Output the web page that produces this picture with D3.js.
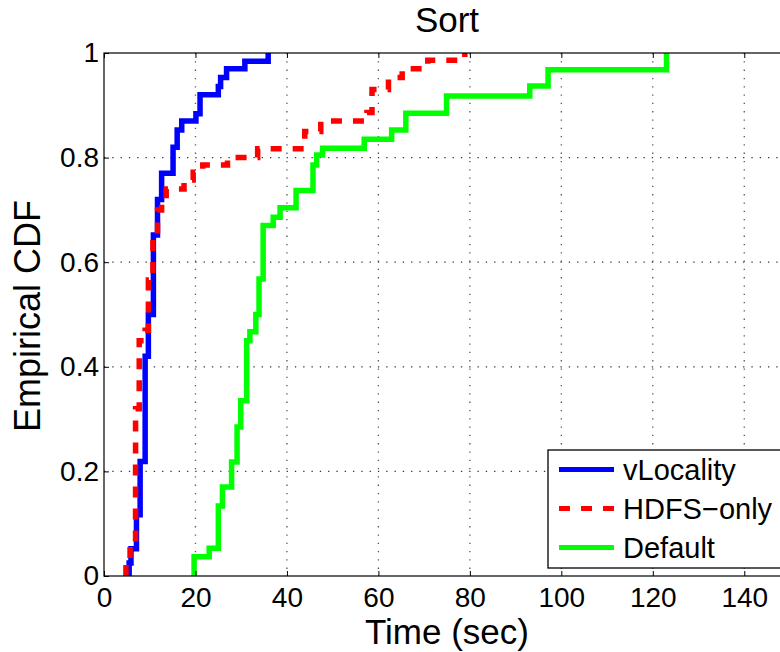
<html>
<head>
<meta charset="utf-8">
<script src="https://cdn.jsdelivr.net/npm/d3@7"></script>
<style>
  body { margin: 0; background: #fff; }
  text { font-family: "Liberation Sans", Arial, Helvetica, sans-serif; fill: #000; }
</style>
</head>
<body>
<div id="chart"></div>
<script>
// step positions (sec) and CDF level reached at each step
var vlocTimes = [5.5, 5.9, 7.1, 7.9, 9.0, 9.7, 10.8, 11.7, 12.6, 15.1, 16.0, 17.0, 20.1, 21.0, 25.0, 25.5, 26.8, 30.8, 35.9];
var vlocCdf   = [0.025, 0.052, 0.117, 0.219, 0.42, 0.50, 0.652, 0.72, 0.77, 0.82, 0.853, 0.87, 0.884, 0.92, 0.936, 0.953, 0.97, 0.984, 1];

var hdfsTimes = [4.8, 5.7, 6.9, 7.7, 9.0, 9.7, 10.7, 11.7, 12.6, 13.6, 17.5, 19.5, 21.6, 27.0, 33.6, 43.9, 47.4, 57.5, 58.6, 62.2, 65.2, 70.8, 78.9];
var hdfsCdf   = [0.025, 0.056, 0.32, 0.45, 0.47, 0.566, 0.643, 0.70, 0.72, 0.74, 0.757, 0.772, 0.786, 0.80, 0.817, 0.85, 0.87, 0.886, 0.93, 0.953, 0.97, 0.986, 1];

var defTimes = [19.7, 23.0, 25.0, 25.9, 27.9, 29.1, 29.9, 31.2, 31.9, 33.2, 33.9, 34.8, 37.0, 38.5, 42.0, 45.7, 46.5, 47.8, 56.9, 62.9, 66.0, 74.9, 93.1, 97.1, 123.0];
var defCdf   = [0.037, 0.053, 0.134, 0.17, 0.218, 0.285, 0.335, 0.45, 0.467, 0.5, 0.568, 0.67, 0.686, 0.704, 0.737, 0.786, 0.805, 0.818, 0.835, 0.853, 0.885, 0.918, 0.937, 0.968, 1];

var seriesNames = ["vLocality", "HDFS\u2212only", "Default"];
var xTicks = [0, 20, 40, 60, 80, 100, 120, 140];
var yTicks = [0, 0.2, 0.4, 0.6, 0.8, 1];

var w = 780, h = 652;
var plotL = 104, plotR = 790, plotT = 53, plotB = 576;

var svg = d3.select("#chart").append("svg")
  .attr("width", w)
  .attr("height", h);

var x = d3.scaleLinear().domain([0, 150]).range([plotL, plotR]);
var y = d3.scaleLinear().domain([0, 1]).range([plotB, plotT]);

svg.append("rect")
  .attr("width", w).attr("height", h).attr("fill", "#fff");

svg.append("defs").append("clipPath").attr("id", "plotclip")
  .append("rect")
  .attr("x", plotL).attr("y", plotT)
  .attr("width", plotR - plotL).attr("height", plotB - plotT);

// dotted grid
var grid = svg.append("g");
grid.selectAll(".vgrid")
  .data(xTicks.slice(1))
  .enter().append("line")
  .attr("class", "vgrid")
  .attr("x1", function(d){ return x(d); })
  .attr("x2", function(d){ return x(d); })
  .attr("y1", plotT).attr("y2", plotB)
  .attr("stroke", "#555")
  .attr("stroke-width", 1.3)
  .attr("stroke-dasharray", "1.3,7");
grid.selectAll(".hgrid")
  .data(yTicks.slice(1, -1))
  .enter().append("line")
  .attr("class", "hgrid")
  .attr("y1", function(d){ return y(d); })
  .attr("y2", function(d){ return y(d); })
  .attr("x1", plotL).attr("x2", plotR)
  .attr("stroke", "#333")
  .attr("stroke-width", 1.3)
  .attr("stroke-dasharray", "1.3,7");

// curves
var line = d3.line()
  .x(function(d){ return x(d[0]); })
  .y(function(d){ return y(d[1]); })
  .curve(d3.curveStepAfter);

function steps(times, cdf) {
  var pts = [[times[0], 0]];
  times.forEach(function(t, i){ pts.push([t, cdf[i]]); });
  return pts;
}

var series = [
  {pts: steps(vlocTimes, vlocCdf), color: "#0000ff", dash: null},
  {pts: steps(hdfsTimes, hdfsCdf), color: "#ff0000", dash: "11,11"},
  {pts: steps(defTimes, defCdf), color: "#00ff00", dash: null}
];

var plot = svg.append("g").attr("clip-path", "url(#plotclip)");
plot.selectAll(".cdf")
  .data(series)
  .enter().append("path")
  .attr("class", "cdf")
  .attr("d", function(d){ return line(d.pts); })
  .attr("fill", "none")
  .attr("stroke", function(d){ return d.color; })
  .attr("stroke-width", 5.5)
  .attr("stroke-dasharray", function(d){ return d.dash; })
  .attr("stroke-linejoin", "miter");

// axes
var xAxis = svg.append("g")
  .attr("transform", "translate(0," + plotB + ")")
  .call(d3.axisBottom(x).tickValues(xTicks).tickSize(-5).tickPadding(11).tickFormat(d3.format("d")));
var xTop = svg.append("g")
  .attr("transform", "translate(0," + plotT + ")")
  .call(d3.axisTop(x).tickValues(xTicks).tickSize(-5).tickFormat(""));
var yAxis = svg.append("g")
  .attr("transform", "translate(" + plotL + ",0)")
  .call(d3.axisLeft(y).tickValues(yTicks).tickSize(-5).tickPadding(5).tickFormat(function(d){ return String(+d.toFixed(1)); }));

[xAxis, xTop, yAxis].forEach(function(a){
  a.select(".domain").remove();
  a.selectAll(".tick line").attr("stroke", "#000").attr("stroke-width", 1);
  a.selectAll("text")
    .attr("font-size", 28)
    .attr("font-family", "\"Liberation Sans\", Arial, Helvetica, sans-serif")
    .attr("fill", "#000");
});

svg.append("rect")
  .attr("x", plotL).attr("y", plotT)
  .attr("width", plotR - plotL).attr("height", plotB - plotT)
  .attr("fill", "none")
  .attr("stroke", "#000")
  .attr("stroke-width", 1.2);

// labels
svg.append("text")
  .attr("x", 447).attr("y", 32)
  .attr("text-anchor", "middle")
  .attr("font-size", 35)
  .text("Sort");
svg.append("text")
  .attr("x", 447).attr("y", 644)
  .attr("text-anchor", "middle")
  .attr("font-size", 35)
  .text("Time (sec)");
svg.append("text")
  .attr("transform", "translate(40,316) rotate(-90)")
  .attr("text-anchor", "middle")
  .attr("font-size", 36)
  .text("Empirical CDF");

// legend
var legend = svg.append("g").attr("transform", "translate(548,450)");
legend.append("rect")
  .attr("x", 0).attr("y", 0)
  .attr("width", 260).attr("height", 118)
  .attr("fill", "#fff")
  .attr("stroke", "#000")
  .attr("stroke-width", 1.3);
var items = legend.selectAll(".item")
  .data(series)
  .enter().append("g")
  .attr("class", "item")
  .attr("transform", function(d, i){ return "translate(0," + (19.5 + i * 39) + ")"; });
items.append("line")
  .attr("x1", 11).attr("x2", 66)
  .attr("stroke", function(d){ return d.color; })
  .attr("stroke-width", 5)
  .attr("stroke-dasharray", function(d){ return d.dash; });
items.append("text")
  .attr("x", 75).attr("dy", "0.35em")
  .attr("font-size", 29)
  .text(function(d, i){ return seriesNames[i]; });
</script>
</body>
</html>
